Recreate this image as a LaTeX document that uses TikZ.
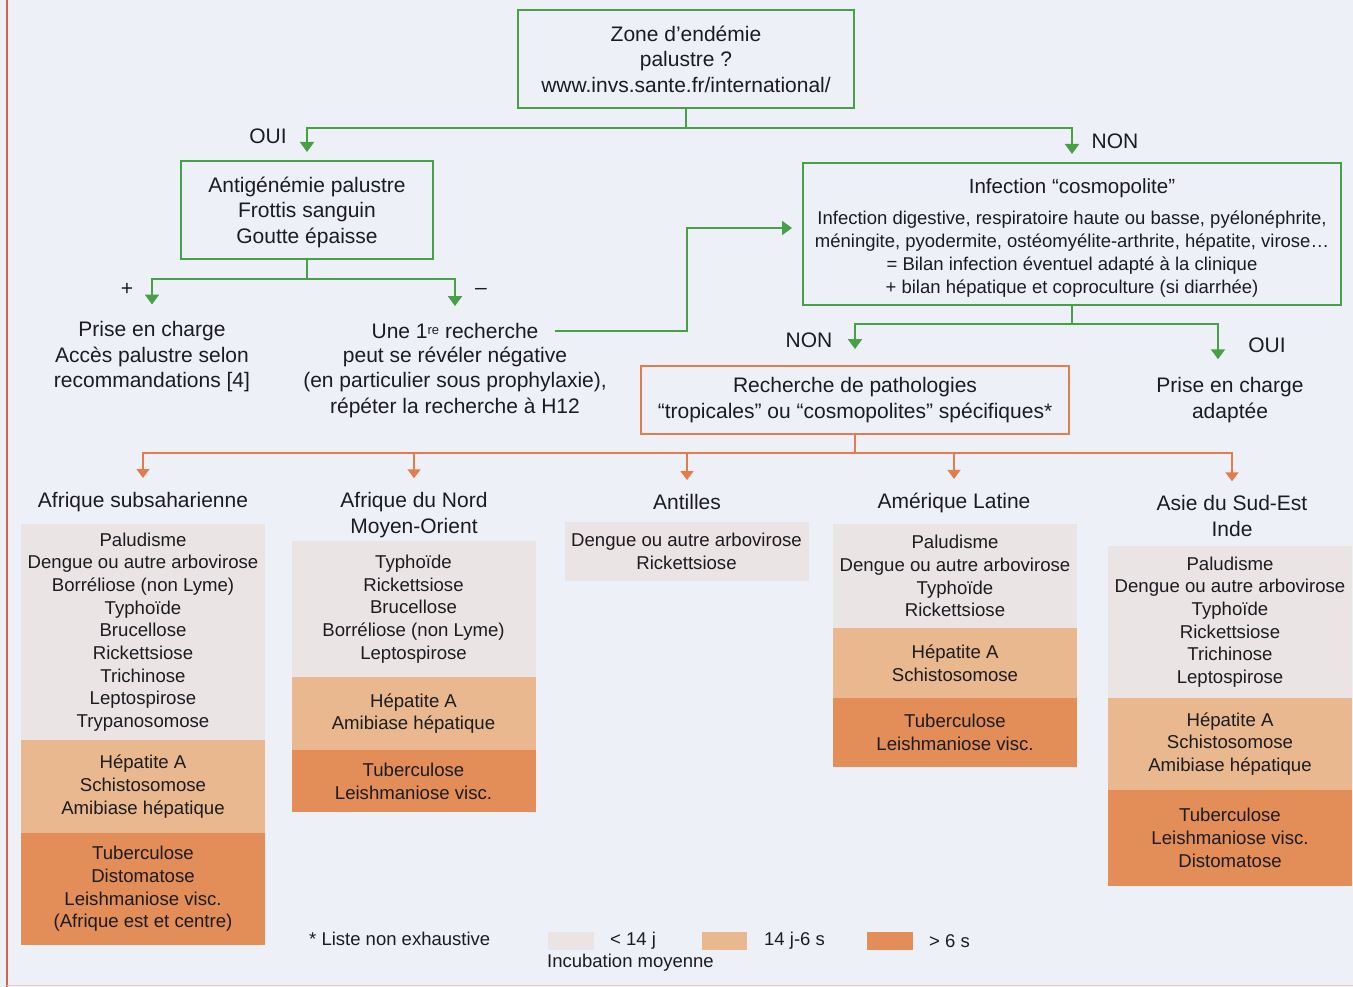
\documentclass[tikz,border=0pt]{standalone}
\usepackage{fontspec}
\setmainfont{Liberation Sans}
\usetikzlibrary{arrows.meta,calc}
\definecolor{bg}{RGB}{238,240,247}
\definecolor{gline}{RGB}{70,160,70}
\definecolor{oline}{RGB}{226,125,75}
\definecolor{bandA}{RGB}{234,228,229}
\definecolor{bandB}{RGB}{233,184,142}
\definecolor{bandC}{RGB}{227,142,88}
\definecolor{txt}{RGB}{28,28,32}
\definecolor{edgec}{RGB}{200,100,80}
\begin{document}
\begin{tikzpicture}[x=1pt,y=-1pt,
  every node/.style={text=txt, inner sep=0pt},
  big/.style={font=\fontsize{21}{25.5}\selectfont, align=center},
  small/.style={font=\fontsize{18.6}{22.7}\selectfont, align=center},
  legend/.style={font=\fontsize{18.5}{21}\selectfont},
  gbox/.style={draw=gline, line width=2pt, big},
  garrow/.style={draw=gline, line width=2pt, -{Triangle[width=14pt,length=10pt]}},
  oarrow/.style={draw=oline, line width=1.6pt, -{Triangle[width=13pt,length=9pt]}},
  band/.style={small, minimum width=244pt},
]
\fill[bg] (0,0) rectangle (1353,987);
\useasboundingbox (0,0) rectangle (1353,987);
\draw[edgec, line width=1.5pt] (7,0) -- (7,987);
\draw[edgec!35, line width=1pt] (7,985.5) -- (1353,985.5);

% boxes
\node[gbox, minimum width=336pt, minimum height=98pt] (top) at (686,59)
  {Zone d'endémie\\palustre ?\\www.invs.sante.fr/international/};
\node[draw=gline, line width=2pt, minimum width=252pt, minimum height=98pt] (ant) at (307,210) {};
\node[big] (anttext) at (307,212) {Antigénémie palustre\\Frottis sanguin\\Goutte épaisse};
\node[draw=gline, line width=2pt, minimum width=538pt, minimum height=142pt] (cosmo) at (1072,234) {};
\node[align=center, font=\fontsize{18.5}{23}\selectfont] (cosmotext) at (1072,237.5)
  {{\fontsize{20.5}{24}\selectfont Infection “cosmopolite”}\\[8pt]
   Infection digestive, respiratoire haute ou basse, pyélonéphrite,\\
   méningite, pyodermite, ostéomyélite-arthrite, hépatite, virose…\\
   = Bilan infection éventuel adapté à la clinique\\
   + bilan hépatique et coproculture (si diarrhée)};
\node[draw=oline, line width=1.8pt, big, minimum width=428pt, minimum height=68pt] (rech) at (855,400)
  {Recherche de pathologies\\“tropicales” ou “cosmopolites” spécifiques*};

% free texts
\node[big] (prise) at (152,357) {Prise en charge\\Accès palustre selon\\recommandations [4]};
\node[big] (une1) at (455,331) {Une 1\raisebox{4pt}{\fontsize{13}{13}\selectfont re} recherche};
\node[big] (une2) at (455,382) {peut se révéler négative\\(en particulier sous prophylaxie),\\répéter la recherche à H12};
\node[big] (adapt) at (1230,400) {Prise en charge\\adaptée};

% labels
\node[big] (l1) at (268,136) {OUI};
\node[big] (l2) at (1115,141) {NON};
\node[big] (l3) at (127,289) {+};
\node[big] (l4) at (481,291) {–};
\node[big] (l5) at (809,340) {NON};
\node[big] (l6) at (1267,345) {OUI};

% region titles
\node[big] (t1) at (143,502) {Afrique subsaharienne};
\node[big] (t2) at (414,515) {Afrique du Nord\\Moyen-Orient};
\node[big] (t3) at (687,502) {Antilles};
\node[big] (t4) at (954,503) {Amérique Latine};
\node[big] (t5) at (1232,516) {Asie du Sud-Est\\Inde};

% green connectors
\draw[garrow, shorten >=8pt] (top.south) -- ++(0,19) -| (ant.north);
\draw[garrow, shorten >=8pt] (top.south) -- ++(0,19) -| (cosmo.north);
\draw[garrow, shorten >=17pt] (ant.south) -- ++(0,19) -| (prise.north);
\draw[garrow, shorten >=17pt] (ant.south) -- ++(0,19) -| (une1.north);
\draw[garrow, shorten >=10pt] ([xshift=16pt]une1.east) -- ++(132,0) |- ([yshift=6pt]cosmo.west);
\draw[garrow, shorten >=16pt] (cosmo.south) -- ++(0,18) -| (rech.north);
\draw[garrow, shorten >=18pt] (cosmo.south) -- ++(0,18) -| ([xshift=-12pt]adapt.north);

% orange connectors
\foreach \t in {t1,t2,t3,t4,t5}
  \draw[oarrow, shorten >=14pt] (rech.south) -- ++(0,18) -| (\t.north);

% bands
\node[band, fill=bandA, minimum height=216pt] (a1) at (143,632)
  {Paludisme\\Dengue ou autre arbovirose\\Borréliose (non Lyme)\\Typhoïde\\Brucellose\\Rickettsiose\\Trichinose\\Leptospirose\\Trypanosomose};
\node[band, fill=bandB, minimum height=93pt] (a2) at (143,786.5)
  {Hépatite A\\Schistosomose\\Amibiase hépatique};
\node[band, fill=bandC, minimum height=112pt] (a3) at (143,889)
  {Tuberculose\\Distomatose\\Leishmaniose visc.\\(Afrique est et centre)};

\node[band, fill=bandA, minimum height=136pt] (b1) at (413.5,609)
  {Typhoïde\\Rickettsiose\\Brucellose\\Borréliose (non Lyme)\\Leptospirose};
\node[band, fill=bandB, minimum height=73pt] (b2) at (413.5,713.5)
  {Hépatite A\\Amibiase hépatique};
\node[band, fill=bandC, minimum height=62pt] (b3) at (413.5,781)
  {Tuberculose\\Leishmaniose visc.};

\node[band, fill=bandA, minimum height=59pt] (c1) at (686.5,551.5)
  {Dengue ou autre arbovirose\\Rickettsiose};

\node[band, fill=bandA, minimum height=104pt] (d1) at (955,576)
  {Paludisme\\Dengue ou autre arbovirose\\Typhoïde\\Rickettsiose};
\node[band, fill=bandB, minimum height=70pt] (d2) at (955,663)
  {Hépatite A\\Schistosomose};
\node[band, fill=bandC, minimum height=69pt] (d3) at (955,732.5)
  {Tuberculose\\Leishmaniose visc.};

\node[band, fill=bandA, minimum height=152pt] (e1) at (1230,622)
  {Paludisme\\Dengue ou autre arbovirose\\Typhoïde\\Rickettsiose\\Trichinose\\Leptospirose};
\node[band, fill=bandB, minimum height=92pt] (e2) at (1230,744)
  {Hépatite A\\Schistosomose\\Amibiase hépatique};
\node[band, fill=bandC, minimum height=96pt] (e3) at (1230,838)
  {Tuberculose\\Leishmaniose visc.\\Distomatose};

% legend
\node[legend, anchor=west] (note) at (309,939) {* Liste non exhaustive};
\node[fill=bandA, minimum width=46pt, minimum height=18pt] (s1) at (571,941) {};
\node[legend, anchor=west] (s1t) at (610,941) {< 14 j};
\node[fill=bandB, minimum width=45pt, minimum height=18pt] (s2) at (724,941) {};
\node[legend, anchor=west] (s2t) at (764,941) {14 j-6 s};
\node[fill=bandC, minimum width=46pt, minimum height=18pt] (s3) at (890,941) {};
\node[legend, anchor=west] (s3t) at (929,941) {> 6 s};
\node[legend, anchor=west] (inc) at (547,963) {Incubation moyenne};
\end{tikzpicture}
\end{document}
